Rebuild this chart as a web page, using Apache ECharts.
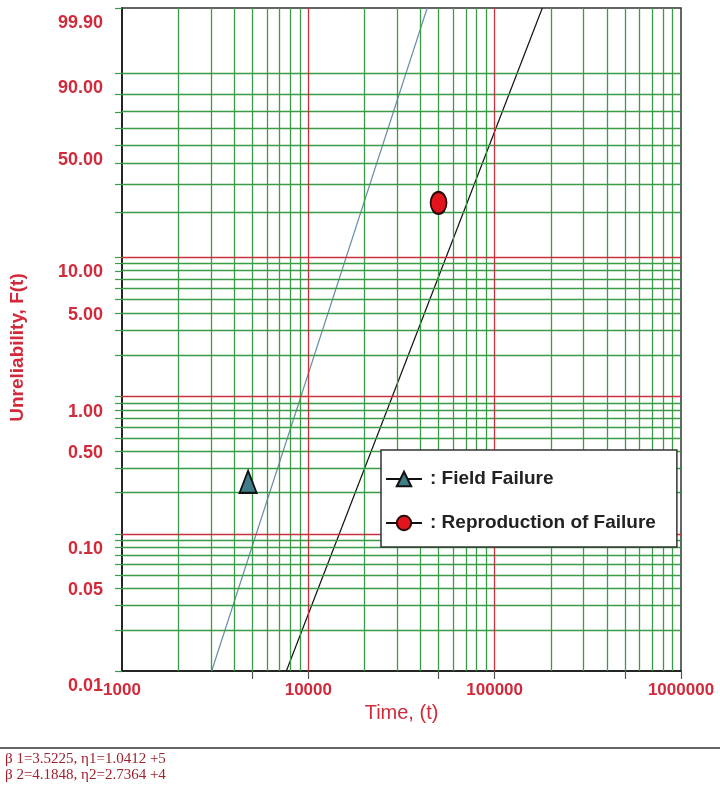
<!DOCTYPE html>
<html>
<head>
<meta charset="utf-8">
<script src="https://cdn.jsdelivr.net/npm/echarts@6/dist/echarts.min.js"></script>
<style>
html,body{margin:0;padding:0;background:#fff;}
#chart{width:720px;height:790px;}
</style>
</head>
<body>
<div id="chart"></div>
<script>
// ---------- data ----------
// Observed points: time and unreliability F(t) in percent
const fieldFailureTime = [4750];
const fieldFailureF = [0.24];
const reproTime = [50000];
const reproF = [23];
// Fitted Weibull lines: end points (time, F%)
const fieldFitTime = [3029, 43447];
const fieldFitF = [0.01, 99.9];
const reproFitTime = [7620, 180200];
const reproFitF = [0.01, 99.9];
// Axis ticks / grid
const yTickLabels = [0.01, 0.05, 0.1, 0.5, 1, 5, 10, 50, 90, 99.9];
const yRange = [0.01, 99.9];
const xRange = [1000, 1000000];
const yGreenLines = [0.02,0.03,0.04,0.05,0.06,0.07,0.08,0.09,
                     0.2,0.3,0.4,0.5,0.6,0.7,0.8,0.9,
                     2,3,4,5,6,7,8,9,
                     20,30,40,50,60,70,80,90];
const yRedLines = [0.1, 1, 10];
const xGreenLines = [2000,3000,4000,5000,6000,7000,8000,9000,
                     20000,30000,40000,50000,60000,70000,80000,90000,
                     200000,300000,400000,500000,600000,700000,800000,900000];
const xRedLines = [10000, 100000];
const xTickMarks = [1000, 5000, 10000, 50000, 100000, 500000, 1000000];
const seriesNames = ['Field Failure', 'Reproduction of Failure'];
const betaValues = ['3.5225', '4.1848'];
const etaValues = ['1.0412 +5', '2.7364 +4'];

// Weibull probability scale
const wb = p => Math.log(-Math.log(1 - p / 100));
const inv = w => 100 * (1 - Math.exp(-Math.exp(w)));

const RED = '#d22a3a';
const GREEN = '#3a9c46';
const GRIDRED = '#c8323c';

const markData = [];
xGreenLines.forEach(v => markData.push({xAxis: v, lineStyle: {color: GREEN, width: 1.3, type: 'solid'}}));
yGreenLines.forEach(v => markData.push({yAxis: wb(v), lineStyle: {color: GREEN, width: 1.3, type: 'solid'}}));
xRedLines.forEach(v => markData.push({xAxis: v, lineStyle: {color: GRIDRED, width: 1.3, type: 'solid'}}));
yRedLines.forEach(v => markData.push({yAxis: wb(v), lineStyle: {color: GRIDRED, width: 1.3, type: 'solid'}}));

const pairs = (ts, fs) => ts.map((t, i) => [t, wb(fs[i])]);

const ellipse = 'path://M0,-10A7,10,0,1,1,0,10A7,10,0,1,1,0,-10Z';

const chart = echarts.init(document.getElementById('chart'), null, {renderer: 'canvas'});
chart.setOption({
  animation: false,
  backgroundColor: '#fff',
  grid: {left: 122, right: 39, top: 8, bottom: 119, show: true, borderColor: '#333', borderWidth: 1.5, backgroundColor: 'transparent'},
  xAxis: {
    type: 'log', logBase: 10, min: xRange[0], max: xRange[1],
    name: 'Time, (t)', nameLocation: 'middle', nameGap: 30,
    nameTextStyle: {color: RED, fontSize: 20, fontFamily: 'Liberation Sans, Arial'},
    axisLine: {show: true, onZero: false, lineStyle: {color: '#111', width: 1.5}},
    axisTick: {show: true, customValues: xTickMarks, length: 8, lineStyle: {color: '#555', width: 1.2}},
    axisLabel: {color: RED, fontSize: 17, fontWeight: 'bold', fontFamily: 'Liberation Sans, Arial', margin: 11,
      formatter: v => String(Math.round(v)), showMinLabel: true, showMaxLabel: true},
    splitLine: {show: false}, minorTick: {show: false}
  },
  yAxis: {
    type: 'value', min: wb(yRange[0]), max: wb(yRange[1]),
    name: 'Unreliability, F(t)', nameLocation: 'middle', nameGap: 95, nameRotate: 90,
    nameTextStyle: {color: RED, fontSize: 19, fontWeight: 'bold', fontFamily: 'Liberation Sans, Arial', padding: [0, 16, 0, 0]},
    axisLine: {show: true, onZero: false, lineStyle: {color: '#111', width: 1.5}},
    axisTick: {show: true, customValues: yGreenLines.concat(yRedLines, yRange).map(wb), length: 7, lineStyle: {color: GREEN, width: 1.2}},
    axisLabel: {
      customValues: yTickLabels.map(wb),
      formatter: v => inv(v).toFixed(2),
      color: RED, fontSize: 18, fontWeight: 'bold', fontFamily: 'Liberation Sans, Arial',
      verticalAlign: 'top', lineHeight: 30, margin: 19,
      showMinLabel: true, showMaxLabel: true
    },
    splitLine: {show: false}
  },
  legend: {
    data: seriesNames, z: 20,
    orient: 'vertical', left: 381, top: 450,
    backgroundColor: '#fff', borderColor: '#333', borderWidth: 1.5,
    padding: [19, 21, 14, 4], itemGap: 24, itemWidth: 36, itemHeight: 18,
    formatter: n => ': ' + n,
    textStyle: {color: '#222', fontSize: 19, fontWeight: 'bold', fontFamily: 'Liberation Sans, Arial', lineHeight: 20, padding: [0, 0, 0, 3]}
  },
  series: [
    {
      name: 'grid', type: 'line', data: [], z: 1, silent: true,
      markLine: {silent: true, symbol: ['none', 'none'], label: {show: false}, animation: false, data: markData}
    },
    {
      name: 'fit2', type: 'line', data: pairs(fieldFitTime, fieldFitF), z: 3, showSymbol: false, silent: true,
      lineStyle: {color: '#6a8ea6', width: 1.2}
    },
    {
      name: 'fit1', type: 'line', data: pairs(reproFitTime, reproFitF), z: 3, showSymbol: false, silent: true,
      lineStyle: {color: '#111', width: 1.2}
    },
    {
      name: seriesNames[0], type: 'line', data: pairs(fieldFailureTime, fieldFailureF), z: 5,
      symbol: 'triangle', symbolSize: [17, 22], showSymbol: true,
      itemStyle: {color: '#3f7d88', borderColor: '#111', borderWidth: 2},
      lineStyle: {color: '#111', width: 3}
    },
    {
      name: seriesNames[1], type: 'line', data: pairs(reproTime, reproF), z: 5,
      symbol: ellipse, symbolSize: [16, 22], showSymbol: true,
      itemStyle: {color: '#e2151d', borderColor: '#2a0808', borderWidth: 2},
      lineStyle: {color: '#111', width: 3}
    }
  ],
  graphic: [
    {type: 'line', shape: {x1: 0, y1: 748, x2: 720, y2: 748}, style: {stroke: '#333', lineWidth: 1.5}},
    {type: 'text', left: 5, top: 752, style: {text: 'β 1=' + betaValues[0] + ', η1=' + etaValues[0], fill: '#a0202e', fontSize: 15, fontFamily: 'Liberation Serif, Times New Roman'}},
    {type: 'text', left: 5, top: 768, style: {text: 'β 2=' + betaValues[1] + ', η2=' + etaValues[1], fill: '#a0202e', fontSize: 15, fontFamily: 'Liberation Serif, Times New Roman'}}
  ]
});
</script>
</body>
</html>
